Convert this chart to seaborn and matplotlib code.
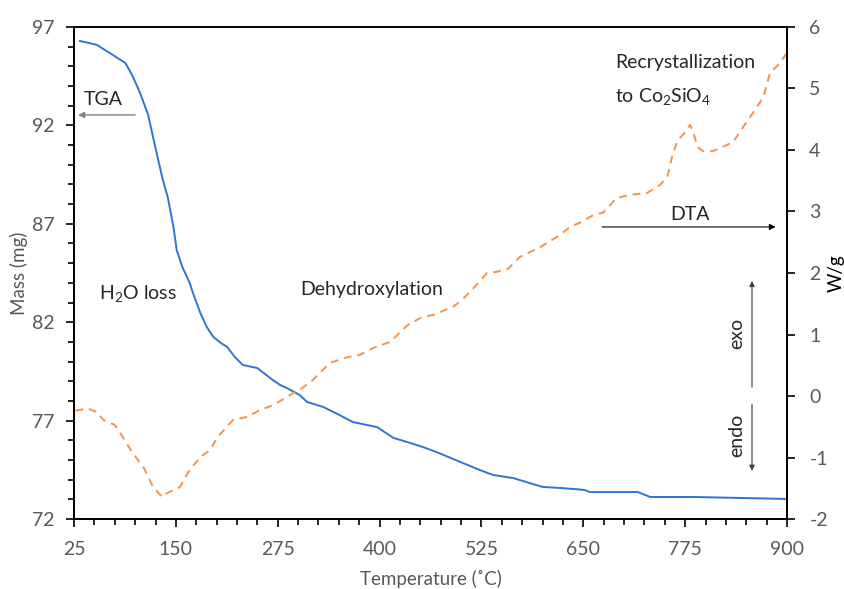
import numpy as np
import pandas as pd
import matplotlib
matplotlib.use("Agg")
import matplotlib.pyplot as plt
import seaborn as sns

# TGA: mass (mg) vs temperature (°C)
tga_temp = [32, 42, 53, 70, 88, 97, 106, 116, 122, 128, 134, 140, 147, 151, 158, 167,
            171, 180, 188, 196, 205, 213, 222, 232, 250, 269, 278, 286, 302, 311, 331,
            350, 367, 397, 417, 434, 453, 470, 499, 523, 539, 564, 600, 621, 646, 652,
            658, 717, 732, 785, 900]
tga_mass = [96.29, 96.20, 96.09, 95.65, 95.17, 94.50, 93.65, 92.53, 91.41, 90.30, 89.23,
            88.36, 86.84, 85.67, 84.80, 83.99, 83.48, 82.47, 81.75, 81.25, 80.95, 80.74,
            80.25, 79.83, 79.67, 79.06, 78.81, 78.66, 78.30, 77.95, 77.69, 77.30, 76.93,
            76.67, 76.12, 75.91, 75.66, 75.40, 74.90, 74.49, 74.24, 74.08, 73.63, 73.58,
            73.50, 73.47, 73.37, 73.37, 73.12, 73.12, 73.02]

# DTA: heat flow (W/g) vs temperature (°C)
dta_temp = [27, 41, 53, 61, 75, 85, 97, 110, 122, 133, 139, 155, 165, 180, 192, 201,
            220, 237, 253, 269, 286, 294, 302, 318, 339, 360, 376, 392, 413, 434, 450,
            466, 490, 501, 515, 532, 544, 558, 572, 597, 618, 634, 646, 662, 674, 691,
            707, 728, 744, 753, 760, 766, 775, 781, 785, 790, 797, 809, 821, 834, 846,
            858, 871, 879, 891, 900]
dta_flow = [-0.24, -0.20, -0.26, -0.39, -0.47, -0.67, -0.93, -1.15, -1.48, -1.64, -1.58,
            -1.48, -1.24, -0.99, -0.88, -0.67, -0.39, -0.34, -0.23, -0.15, -0.02, 0.05,
            0.10, 0.26, 0.54, 0.63, 0.67, 0.78, 0.88, 1.15, 1.27, 1.32, 1.45, 1.56, 1.75,
            2.00, 2.02, 2.07, 2.26, 2.42, 2.59, 2.75, 2.82, 2.94, 2.98, 3.22, 3.27, 3.30,
            3.43, 3.56, 3.95, 4.16, 4.29, 4.41, 4.29, 4.05, 3.98, 3.98, 4.05, 4.13, 4.37,
            4.60, 4.86, 5.25, 5.41, 5.58]

x_ticks = [25, 150, 275, 400, 525, 650, 775, 900]
mass_ticks = [72, 77, 82, 87, 92, 97]
flow_ticks = [-2, -1, 0, 1, 2, 3, 4, 5, 6]

sns.set_style("ticks")
FONT = "Lato"
plt.rcParams["font.family"] = [FONT, "DejaVu Sans"]
plt.rcParams["mathtext.fontset"] = "custom"
plt.rcParams["mathtext.rm"] = FONT
plt.rcParams["mathtext.it"] = FONT
plt.rcParams["axes.unicode_minus"] = False

GRAY = "#595959"
BLUE = "#2F75D3"
ORANGE = "#F4934A"

fig = plt.figure(figsize=(8.45, 5.89), dpi=100)
ax = fig.add_axes([0.0876, 0.1188, 0.8438, 0.8354])
ax2 = ax.twinx()

tga = pd.DataFrame({"Temperature": tga_temp, "Mass": tga_mass})
dta = pd.DataFrame({"Temperature": dta_temp, "Flow": dta_flow})

sns.lineplot(data=tga, x="Temperature", y="Mass", ax=ax, color=BLUE, linewidth=1.4)
sns.lineplot(data=dta, x="Temperature", y="Flow", ax=ax2, color=ORANGE, linewidth=1.4,
             linestyle=(0, (4, 3)))

ax.set_xlim(25, 900)
ax.set_ylim(72, 97)
ax2.set_ylim(-2, 6)
ax.set_xticks(x_ticks)
ax.set_yticks(mass_ticks)
ax2.set_yticks(flow_ticks)
ax.set_xticks(np.arange(25, 901, 25), minor=True)
ax.set_yticks(np.arange(72, 98, 1), minor=True)

for a in (ax, ax2):
    for s in a.spines.values():
        s.set_color("black")
        s.set_linewidth(1.3)
ax.spines["top"].set_color("#404040")

ax.tick_params(axis="x", which="major", length=6, width=1.2, color="black",
               labelsize=14, labelcolor=GRAY, pad=10, direction="out")
ax.tick_params(axis="y", which="major", length=6, width=1.2, color="black",
               labelsize=14, labelcolor=GRAY, pad=8, direction="out")
ax.tick_params(axis="both", which="minor", length=4, width=1.2, color="black",
               direction="out")
ax2.tick_params(axis="y", which="major", length=6, width=1.2, color="black",
                labelsize=14, labelcolor=GRAY, pad=10, direction="out")

ax.set_xlabel("Temperature (˚C)", fontsize=13.5, color=GRAY)
ax.set_ylabel("Mass (mg)", fontsize=13.5, color=GRAY)
ax2.set_ylabel("W/g", fontsize=13.5, color="black")
ax.xaxis.set_label_coords(0.5, -0.104)
ax.yaxis.set_label_coords(-0.0645, 0.5)
ax2.yaxis.set_label_coords(1.0575, 0.5)

fs = 14
ax.text(60.6, 93.3, "TGA", fontsize=fs, ha="center", va="center")
ax.annotate("", xy=(30, 92.53), xytext=(100, 92.53),
            arrowprops=dict(arrowstyle="-|>", color="#808080", lw=1.0,
                            mutation_scale=9, shrinkA=0, shrinkB=0))
ax.text(103.5, 83.48, r"H$_\mathregular{2}$O loss", fontsize=fs, ha="center", va="center")
ax.text(390.7, 83.64, "Dehydroxylation", fontsize=fs, ha="center", va="center")
ax.text(689, 95.22, "Recrystallization", fontsize=fs, ha="left", va="center")
ax.text(689, 93.45, r"to Co$_\mathregular{2}$SiO$_\mathregular{4}$", fontsize=fs,
        ha="left", va="center")
ax.text(781, 87.45, "DTA", fontsize=fs, ha="center", va="center")
ax.annotate("", xy=(886, 86.84), xytext=(673, 86.84),
            arrowprops=dict(arrowstyle="-|>", color="black", lw=0.8,
                            mutation_scale=9, shrinkA=0, shrinkB=0))
ax.text(838.6, 81.45, "exo", fontsize=fs, rotation=90, ha="center", va="center")
ax.annotate("", xy=(857, 84.1), xytext=(857, 78.7),
            arrowprops=dict(arrowstyle="-|>", color="#404040", lw=0.8,
                            mutation_scale=8, shrinkA=0, shrinkB=0))
ax.text(838.6, 76.27, "endo", fontsize=fs, rotation=90, ha="center", va="center")
ax.annotate("", xy=(857, 74.45), xytext=(857, 77.84),
            arrowprops=dict(arrowstyle="-|>", color="#404040", lw=0.8,
                            mutation_scale=8, shrinkA=0, shrinkB=0))

fig.savefig("out.png", dpi=100)
